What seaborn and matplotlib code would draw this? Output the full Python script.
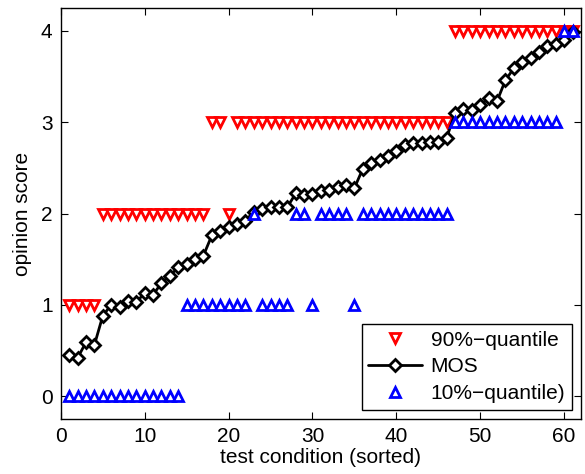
import numpy as np
import pandas as pd
import matplotlib
matplotlib.use("Agg")
import matplotlib.pyplot as plt
import seaborn as sns

# Test conditions sorted by mean opinion score
conditions = list(range(1, 62))

mos = [0.45, 0.42, 0.59, 0.56, 0.88, 1.00, 0.98, 1.04, 1.03, 1.13,
       1.11, 1.24, 1.32, 1.41, 1.45, 1.50, 1.54, 1.76, 1.81, 1.85,
       1.89, 1.92, 2.02, 2.05, 2.07, 2.07, 2.07, 2.22, 2.20, 2.21,
       2.25, 2.26, 2.29, 2.31, 2.28, 2.49, 2.55, 2.59, 2.63, 2.68,
       2.75, 2.77, 2.77, 2.78, 2.78, 2.83, 3.10, 3.15, 3.13, 3.19,
       3.26, 3.23, 3.46, 3.59, 3.66, 3.70, 3.77, 3.83, 3.86, 3.90,
       3.99]

q90 = [1, 1, 1, 1, 2, 2, 2, 2, 2, 2,
       2, 2, 2, 2, 2, 2, 2, 3, 3, 2,
       3, 3, 3, 3, 3, 3, 3, 3, 3, 3,
       3, 3, 3, 3, 3, 3, 3, 3, 3, 3,
       3, 3, 3, 3, 3, 3, 4, 4, 4, 4,
       4, 4, 4, 4, 4, 4, 4, 4, 4, 4,
       4]

q10 = [0, 0, 0, 0, 0, 0, 0, 0, 0, 0,
       0, 0, 0, 0, 1, 1, 1, 1, 1, 1,
       1, 1, 2, 1, 1, 1, 1, 2, 2, 1,
       2, 2, 2, 2, 1, 2, 2, 2, 2, 2,
       2, 2, 2, 2, 2, 2, 3, 3, 3, 3,
       3, 3, 3, 3, 3, 3, 3, 3, 3, 4,
       4]

x_ticks = [0, 10, 20, 30, 40, 50, 60]
y_ticks = [0, 1, 2, 3, 4]

df = pd.DataFrame({"condition": conditions, "MOS": mos,
                   "q90": q90, "q10": q10})

sns.set_style("white")
plt.rcParams["font.family"] = ["Liberation Sans", "DejaVu Sans"]
plt.rcParams["font.size"] = 15
plt.rcParams["text.color"] = "black"
plt.rcParams["axes.labelcolor"] = "black"
plt.rcParams["xtick.color"] = "black"
plt.rcParams["ytick.color"] = "black"
plt.rcParams["xtick.direction"] = "in"
plt.rcParams["ytick.direction"] = "in"

fig = plt.figure(figsize=(5.85, 4.74), dpi=100)
ax = fig.add_axes([0.104, 0.116, 0.889, 0.867])

tri_kw = dict(linestyle="none", markersize=7.5, markeredgewidth=2.0,
              markerfacecolor="white")

sns.lineplot(data=df, x="condition", y="q90", ax=ax, marker="v",
             color="red", markeredgecolor="red", label="90%\u2212quantile",
             **tri_kw)
sns.lineplot(data=df, x="condition", y="MOS", ax=ax, marker="D",
             color="black", linewidth=2.0, markersize=6.4,
             markeredgewidth=2.0, markerfacecolor="white",
             markeredgecolor="black", label="MOS")
sns.lineplot(data=df, x="condition", y="q10", ax=ax, marker="^",
             color="blue", markeredgecolor="blue",
             label="10%\u2212quantile)", **tri_kw)

ax.set_xlim(0, 62)
ax.set_ylim(-0.25, 4.25)
ax.set_xticks(x_ticks)
ax.set_yticks(y_ticks)
ax.set_xlabel("test condition (sorted)", fontsize=15, labelpad=1)
ax.set_ylabel("opinion score", fontsize=15, labelpad=6)
ax.tick_params(axis="both", which="both", direction="in", length=5,
               width=0.8, color="black", labelcolor="black", labelsize=15,
               pad=6, top=True, right=True, bottom=True, left=True)
for side in ax.spines.values():
    side.set_visible(True)
    side.set_color("black")
    side.set_linewidth(1.0)

leg = ax.legend(loc="lower right", frameon=True, fancybox=False,
                edgecolor="black", framealpha=1, fontsize=15,
                handlelength=2.6, handletextpad=0.4, borderpad=0.3,
                labelspacing=0.38, borderaxespad=0.45)
leg.get_frame().set_linewidth(1.0)
for t in leg.get_texts():
    t.set_color("black")

fig.savefig("out.png", dpi=100)
